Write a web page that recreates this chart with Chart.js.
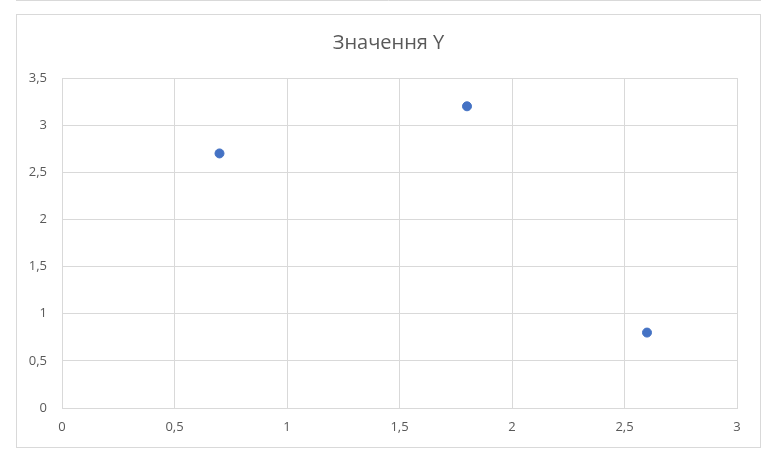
<!DOCTYPE html>
<html><head><meta charset="utf-8">
<script src="https://cdn.jsdelivr.net/npm/chart.js@4.4.0/dist/chart.umd.min.js"></script>
<style>html,body{margin:0;padding:0;background:#fff;}#wrap{width:777px;height:450px;}</style>
</head><body><div id="wrap"><canvas id="c" width="777" height="450"></canvas></div>
<script>
const chartTitle = "Значення Y";
const xValues = [0.7, 1.8, 2.6];
const yValues = [2.7, 3.2, 0.8];
const xTicks = [0, 0.5, 1, 1.5, 2, 2.5, 3];
const yTicks = [0, 0.5, 1, 1.5, 2, 2.5, 3, 3.5];

const fmt = v => String(v).replace('.', ',');
const points = xValues.map((x, i) => ({x: x, y: yValues[i]}));

const frame = {
  id: 'frame',
  beforeDraw(chart) {
    const ctx = chart.ctx;
    ctx.save();
    ctx.fillStyle = '#fff';
    ctx.fillRect(0, 0, chart.width, chart.height);
    ctx.strokeStyle = '#D9D9D9';
    ctx.lineWidth = 1;
    ctx.beginPath();
    ctx.moveTo(16, 0.5); ctx.lineTo(761, 0.5);
    ctx.stroke();
    ctx.strokeRect(16.5, 14.5, 744, 433);
    ctx.restore();
  }
};

new Chart(document.getElementById('c'), {
  type: 'scatter',
  data: { datasets: [{ label: chartTitle, data: points, backgroundColor: '#4472C4', borderColor: '#4472C4', pointRadius: 4.5, pointHoverRadius: 4.5 }] },
  options: {
    responsive: false, animation: false, devicePixelRatio: 1,
    layout: { padding: 0 },
    plugins: {
      legend: { display: false }, tooltip: { enabled: false },
      title: { display: true, text: chartTitle, color: '#595959', font: { family: 'Open Sans', size: 20, weight: 'normal' }, padding: { top: 31, bottom: 23 } }
    },
    scales: {
      x: {
        type: 'linear', min: 0, max: 3,
        afterBuildTicks: s => { s.ticks = xTicks.map(v => ({value: v})); },
        afterFit: s => { s.height = 42; },
        grid: { color: '#D9D9D9', drawTicks: false },
        border: { color: '#D9D9D9' },
        ticks: { color: '#595959', font: { family: 'Open Sans', size: 13 }, padding: 11, callback: v => fmt(v), maxRotation: 0 }
      },
      y: {
        type: 'linear', min: 0, max: 3.5,
        afterBuildTicks: s => { s.ticks = yTicks.map(v => ({value: v})); },
        afterFit: s => { s.width = 62; },
        grid: { color: '#D9D9D9', drawTicks: false },
        border: { color: '#D9D9D9' },
        ticks: { color: '#595959', font: { family: 'Open Sans', size: 13 }, padding: 15, callback: v => fmt(v) }
      },
      yRight: {
        type: 'linear', position: 'right', display: true, min: 0, max: 3.5,
        afterFit: s => { s.width = 40; },
        grid: { display: false, drawTicks: false },
        border: { display: false },
        ticks: { display: false }
      }
    }
  },
  plugins: [frame]
});
</script></body></html>
